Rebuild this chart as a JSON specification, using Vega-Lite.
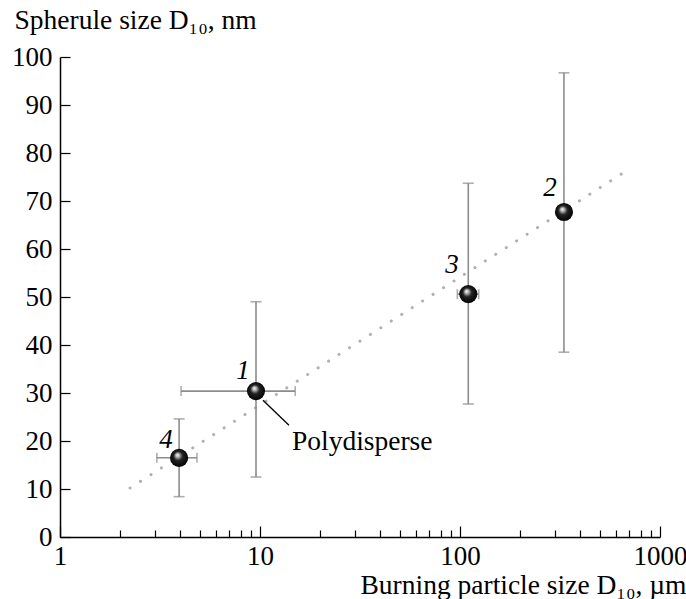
{
  "$schema": "https://vega.github.io/schema/vega-lite/v6.json",
  "width": 600,
  "height": 480,
  "autosize": {"type": "none"},
  "padding": {"left": 60, "top": 57, "right": 26, "bottom": 62},
  "background": "white",
  "config": {
    "view": {"stroke": null},
    "font": "Liberation Serif",
    "axis": {
      "domainColor": "black",
      "domainWidth": 1.5,
      "tickColor": "black",
      "tickWidth": 1.2,
      "labelFont": "Liberation Serif",
      "labelFontSize": 27,
      "labelColor": "black",
      "titleFont": "Liberation Serif",
      "titleFontSize": 27.5,
      "titleFontWeight": "normal",
      "titleColor": "black",
      "grid": false
    }
  },
  "datasets": {
    "pts": [
      {"id": "4", "d": 3.94, "s": 16.5, "dlo": 3.05, "dhi": 4.84, "slo": 8.4, "shi": 24.6},
      {"id": "1", "d": 9.55, "s": 30.4, "dlo": 4.03, "dhi": 15.0, "slo": 12.5, "shi": 49.0},
      {"id": "3", "d": 110, "s": 50.6, "dlo": 97, "dhi": 124, "slo": 27.7, "shi": 73.7},
      {"id": "2", "d": 331, "s": 67.7, "dlo": null, "dhi": null, "slo": 38.5, "shi": 96.7}
    ],
    "trend": [
      {"d": 2.24, "s": 10.2},
      {"d": 640, "s": 75.6}
    ],
    "labels": [
      {"txt": "4", "d": 3.39, "s": 20.2},
      {"txt": "1", "d": 8.22, "s": 34.6},
      {"txt": "3", "d": 91.2, "s": 56.7},
      {"txt": "2", "d": 282, "s": 72.7}
    ],
    "leader": [
      {"d": 10.35, "s": 28.5, "d2": 13.96, "s2": 23.3}
    ],
    "note": [
      {"txt": "Polydisperse", "d": 14.45, "s": 19.8}
    ]
  },
  "layer": [
    {
      "data": {"name": "trend"},
      "mark": {"type": "line", "color": "#b0b0b0", "strokeWidth": 3, "strokeDash": [0.1, 12.3], "strokeCap": "round"},
      "encoding": {
        "x": {
          "field": "d", "type": "quantitative",
          "scale": {"type": "log", "domain": [1, 1000], "nice": false},
          "axis": {
            "title": "Burning particle size D₁₀, µm",
            "values": [1,2,3,4,5,6,7,8,9,10,20,30,40,50,60,70,80,90,100,200,300,400,500,600,700,800,900,1000],
            "format": "d",
            "labelExpr": "datum.value == 1 || datum.value == 10 || datum.value == 100 || datum.value == 1000 ? datum.label : ''",
            "labelOverlap": false,
            "labelFlush": false,
            "tickSize": {"condition": {"test": "datum.value == 1 || datum.value == 10 || datum.value == 100 || datum.value == 1000", "value": -11}, "value": -7},
            "labelPadding": 17,
            "titleAnchor": "end",
            "titleAlign": "right",
            "titleX": 626,
            "titleY": 56,
            "titleBaseline": "alphabetic"
          }
        },
        "y": {
          "field": "s", "type": "quantitative",
          "scale": {"domain": [0, 100], "nice": false},
          "axis": {
            "title": "Spherule size D₁₀, nm",
            "values": [0,10,20,30,40,50,60,70,80,90,100],
            "tickSize": -10,
            "labelPadding": 18,
            "titleAngle": 0,
            "titleAlign": "left",
            "titleX": -46,
            "titleY": -29,
            "titleBaseline": "alphabetic"
          }
        }
      }
    },
    {
      "data": {"name": "pts"},
      "mark": {"type": "rule", "color": "#8c8c8c", "strokeWidth": 1.6},
      "encoding": {
        "x": {"field": "d", "type": "quantitative"},
        "y": {"field": "slo", "type": "quantitative"},
        "y2": {"field": "shi"}
      }
    },
    {
      "data": {"name": "pts"},
      "mark": {"type": "tick", "orient": "horizontal", "color": "#8c8c8c", "size": 11, "thickness": 1.6},
      "encoding": {
        "x": {"field": "d", "type": "quantitative"},
        "y": {"field": "slo", "type": "quantitative"}
      }
    },
    {
      "data": {"name": "pts"},
      "mark": {"type": "tick", "orient": "horizontal", "color": "#8c8c8c", "size": 11, "thickness": 1.6},
      "encoding": {
        "x": {"field": "d", "type": "quantitative"},
        "y": {"field": "shi", "type": "quantitative"}
      }
    },
    {
      "data": {"name": "pts"},
      "transform": [{"filter": "isValid(datum.dlo)"}],
      "mark": {"type": "rule", "color": "#8c8c8c", "strokeWidth": 1.6},
      "encoding": {
        "x": {"field": "dlo", "type": "quantitative"},
        "x2": {"field": "dhi"},
        "y": {"field": "s", "type": "quantitative"}
      }
    },
    {
      "data": {"name": "pts"},
      "transform": [{"filter": "isValid(datum.dlo)"}],
      "mark": {"type": "tick", "orient": "vertical", "color": "#8c8c8c", "size": 10, "thickness": 1.6},
      "encoding": {
        "x": {"field": "dlo", "type": "quantitative"},
        "y": {"field": "s", "type": "quantitative"}
      }
    },
    {
      "data": {"name": "pts"},
      "transform": [{"filter": "isValid(datum.dhi)"}],
      "mark": {"type": "tick", "orient": "vertical", "color": "#8c8c8c", "size": 10, "thickness": 1.6},
      "encoding": {
        "x": {"field": "dhi", "type": "quantitative"},
        "y": {"field": "s", "type": "quantitative"}
      }
    },
    {
      "data": {"name": "leader"},
      "mark": {"type": "rule", "color": "black", "strokeWidth": 1.3},
      "encoding": {
        "x": {"field": "d", "type": "quantitative"},
        "x2": {"field": "d2"},
        "y": {"field": "s", "type": "quantitative"},
        "y2": {"field": "s2"}
      }
    },
    {
      "data": {"name": "pts"},
      "mark": {
        "type": "point", "shape": "circle", "filled": true, "size": 330, "opacity": 1, "strokeWidth": 0,
        "fill": {
          "gradient": "radial",
          "x1": 0.4, "y1": 0.33, "r1": 0,
          "x2": 0.5, "y2": 0.5, "r2": 0.55,
          "stops": [
            {"offset": 0, "color": "#ffffff"},
            {"offset": 0.18, "color": "#bbbbbb"},
            {"offset": 0.45, "color": "#222222"},
            {"offset": 1, "color": "#000000"}
          ]
        }
      },
      "encoding": {
        "x": {"field": "d", "type": "quantitative"},
        "y": {"field": "s", "type": "quantitative"}
      }
    },
    {
      "data": {"name": "labels"},
      "mark": {"type": "text", "font": "Liberation Serif", "fontStyle": "italic", "fontSize": 27, "color": "black", "align": "center", "baseline": "middle"},
      "encoding": {
        "x": {"field": "d", "type": "quantitative"},
        "y": {"field": "s", "type": "quantitative"},
        "text": {"field": "txt"}
      }
    },
    {
      "data": {"name": "note"},
      "mark": {"type": "text", "font": "Liberation Serif", "fontSize": 27.5, "color": "black", "align": "left", "baseline": "middle"},
      "encoding": {
        "x": {"field": "d", "type": "quantitative"},
        "y": {"field": "s", "type": "quantitative"},
        "text": {"field": "txt"}
      }
    }
  ]
}
